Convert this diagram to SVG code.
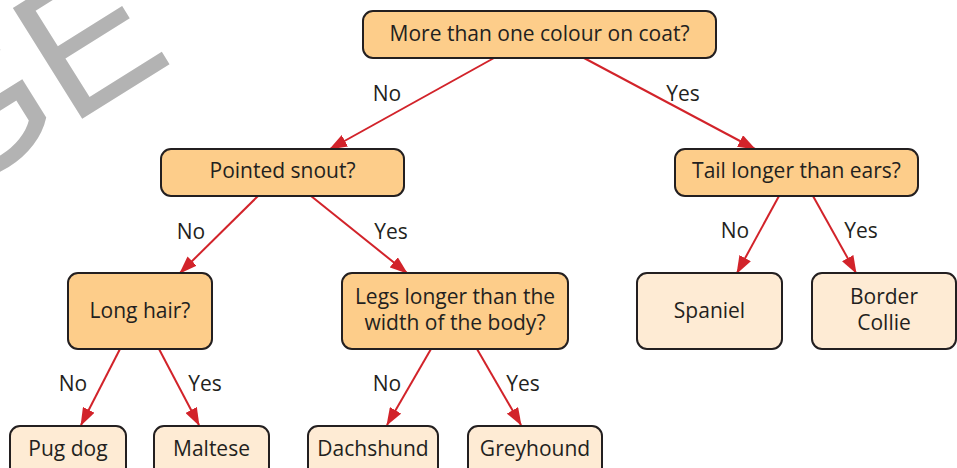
<svg xmlns="http://www.w3.org/2000/svg" width="957" height="468" viewBox="0 0 957 468">
<defs>
<style>
.q{fill:#fdcd8a;stroke:#231f20;stroke-width:2}
.l{fill:#feebd4;stroke:#231f20;stroke-width:2}
text{font-family:"Open Sans","Noto Sans","Liberation Sans",sans-serif;font-size:21px;fill:#231f20;text-anchor:middle}
.c line{stroke:#d2232a;stroke-width:2;marker-end:url(#ah)}
.wm{font-family:"Liberation Sans",Arial,sans-serif;font-size:190px;fill:#b3b3b3;text-anchor:start}
</style>
<marker id="ah" viewBox="0 0 18 13" refX="17" refY="6.5" markerWidth="18" markerHeight="13" markerUnits="userSpaceOnUse" orient="auto">
<path d="M0,0 L18,6.5 L0,13 z" fill="#d2232a"/>
</marker>
</defs>
<rect width="957" height="468" fill="#fff"/>
<g id="watermark">
<text class="wm" transform="translate(82,119) rotate(-32)" x="-163" y="0">GE</text>
</g>
<g class="c" id="connectors">
<line x1="494" y1="58" x2="330" y2="149"/>
<line x1="584" y1="58" x2="755" y2="149"/>
<line x1="258" y1="196" x2="180" y2="273"/>
<line x1="311" y1="196" x2="407" y2="273"/>
<line x1="120" y1="349" x2="81" y2="425"/>
<line x1="159" y1="349" x2="199" y2="425"/>
<line x1="431" y1="349" x2="387" y2="425"/>
<line x1="477" y1="349" x2="521" y2="425"/>
<line x1="779" y1="196" x2="737" y2="273"/>
<line x1="813" y1="196" x2="856" y2="273"/>
</g>
<g id="labels">
<text x="387" y="101">No</text>
<text x="683" y="101">Yes</text>
<text x="191" y="239">No</text>
<text x="391" y="239">Yes</text>
<text x="73" y="391">No</text>
<text x="205" y="391">Yes</text>
<text x="387" y="391">No</text>
<text x="523" y="391">Yes</text>
<text x="735" y="238">No</text>
<text x="861" y="238">Yes</text>
</g>
<g id="n-root"><rect class="q" x="363" y="11" width="353" height="47" rx="10"/><text x="539.5" y="41">More than one colour on coat?</text></g>
<g id="n-snout"><rect class="q" x="161" y="149" width="243" height="47" rx="10"/><text x="282.5" y="178">Pointed snout?</text></g>
<g id="n-tail"><rect class="q" x="675" y="149" width="243" height="47" rx="10"/><text x="796.5" y="178">Tail longer than ears?</text></g>
<g id="n-hair"><rect class="q" x="68" y="273" width="144" height="76" rx="10"/><text x="140" y="318">Long hair?</text></g>
<g id="n-legs"><rect class="q" x="342" y="273" width="226" height="76" rx="10"/><text x="455" y="304">Legs longer than the</text><text x="455" y="330">width of the body?</text></g>
<g id="n-spaniel"><rect class="l" x="637" y="273" width="145" height="76" rx="10"/><text x="709.5" y="318">Spaniel</text></g>
<g id="n-border"><rect class="l" x="812" y="273" width="144" height="76" rx="10"/><text x="884" y="304">Border</text><text x="884" y="330">Collie</text></g>
<g id="n-pug"><rect class="l" x="10" y="426" width="116" height="60" rx="10"/><text x="68" y="456">Pug dog</text></g>
<g id="n-maltese"><rect class="l" x="154" y="426" width="115" height="60" rx="10"/><text x="211.5" y="456">Maltese</text></g>
<g id="n-dachshund"><rect class="l" x="308" y="426" width="130" height="60" rx="10"/><text x="373" y="456">Dachshund</text></g>
<g id="n-greyhound"><rect class="l" x="468" y="426" width="134" height="60" rx="10"/><text x="535" y="456">Greyhound</text></g>
</svg>
